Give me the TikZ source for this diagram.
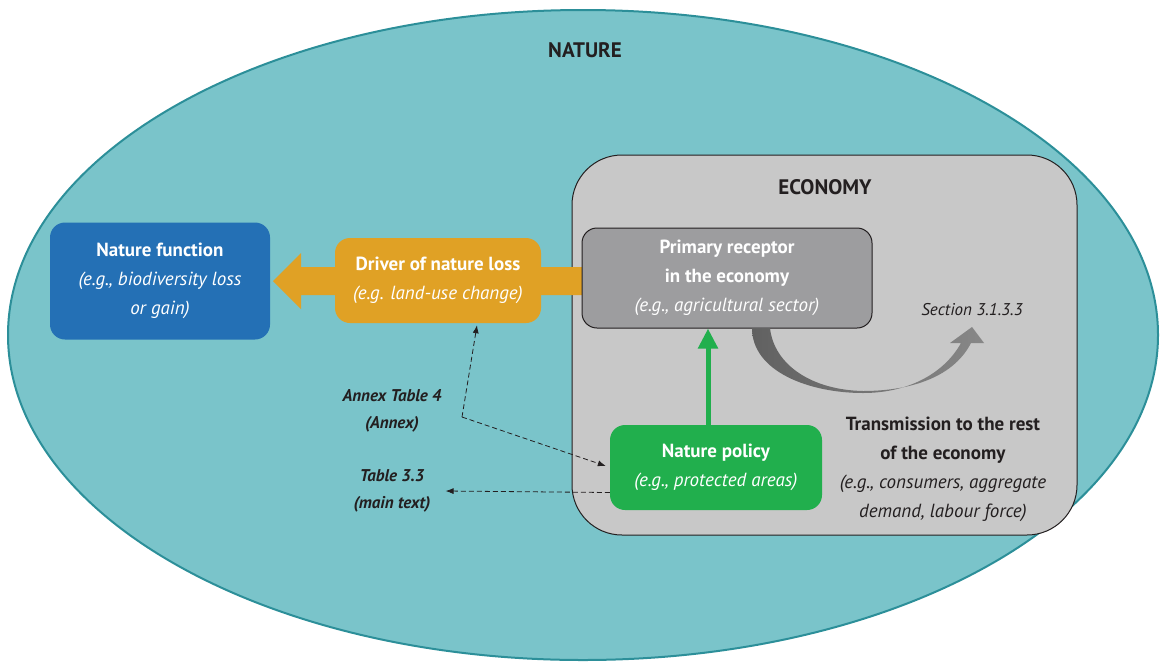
\documentclass[tikz,border=0pt]{standalone}
\usepackage{fontspec}
\setmainfont{PT Sans}
\usepackage{tikz}
\usetikzlibrary{arrows.meta}
\usetikzlibrary{calc}

\definecolor{naturefill}{HTML}{7AC4CA}
\definecolor{natureline}{HTML}{2C8F99}
\definecolor{econfill}{HTML}{C8C8C8}
\definecolor{receptorfill}{HTML}{9D9D9F}
\definecolor{functionfill}{HTML}{2470B5}
\definecolor{driverfill}{HTML}{E0A125}
\definecolor{policyfill}{HTML}{21AF4D}
\definecolor{inkdark}{HTML}{231F20}

\begin{document}
\begin{tikzpicture}[x=1pt, y=-1pt,
    box/.style={rounded corners=15pt, text=white, align=center, inner sep=0pt,
      font=\fontsize{19}{29}\selectfont},
    note/.style={text=inkdark, align=center, inner sep=0pt,
      font=\fontsize{17}{27}\selectfont\bfseries\itshape},
    refarrow/.style={dash pattern=on 5pt off 3pt, line width=0.8pt, color=inkdark,
      -{Latex[length=8pt,width=6pt]}}]
      \useasboundingbox (0,0) rectangle (1161,662);

      %% Nature and economy
      \draw[fill=naturefill, draw=natureline, line width=2pt] (583,335) ellipse (575 and 325);
      \node[font=\fontsize{21}{25}\selectfont\bfseries, text=inkdark] (naturetitle) at (585,50) {NATURE};
      \node[draw=inkdark, fill=econfill, line width=1pt, rounded corners=50pt,
        minimum width=505pt, minimum height=380pt, inner sep=0pt] (economy) at (824.5,345) {};
      \node[font=\fontsize{21}{25}\selectfont\bfseries, text=inkdark] (economytitle) at (825,187) {ECONOMY};

      %% Thick arrow from receptor to nature function
      \fill[driverfill] (582,267) -- (301,267) -- (301,253) -- (273,281)
        -- (301,309) -- (301,295) -- (582,295) -- cycle;

      %% Boxes
      \node[box, fill=functionfill, minimum width=220pt, minimum height=117pt] (function) at (160,281)
        {\textbf{Nature function}\\\textit{(e.g., biodiversity loss}\\\textit{or gain)}};
      \node[box, fill=driverfill, minimum width=206pt, minimum height=85pt] (driver) at (438,280.5)
        {\textbf{Driver of nature loss}\\\textit{(e.g. land-use change)}};
      \node[box, fill=receptorfill, draw=inkdark, line width=1pt, minimum width=290pt,
        minimum height=100pt] (receptor) at (727,278)
        {\textbf{Primary receptor}\\\textbf{in the economy}\\\textit{(e.g., agricultural sector)}};
      \node[box, fill=policyfill, minimum width=212pt, minimum height=85pt] (policy) at (716,467.5)
        {\textbf{Nature policy}\\\textit{(e.g., protected areas)}};

      %% Policy acts on receptor
      \draw[policyfill, line width=5pt, -{Triangle[length=20pt,width=19pt]}]
        (policy.north -| 708,0) -- (receptor.south -| 708,0);

      %% Transmission arrow
      \shade[left color=black!62, right color=black!47]
        (752,328) .. controls (752,372) and (810,393) .. (863,393)
        .. controls (910,393) and (945,372) .. (961,343) -- (950,343) -- (972,327)
        -- (984,343) -- (971,343) .. controls (952,380) and (905,391) .. (863,391)
        .. controls (812,390) and (774,365) .. (770,328) -- cycle;
      \node[font=\fontsize{17}{21}\selectfont\itshape, text=inkdark] (section) at (972,310) {Section 3.1.3.3};
      \node[text=inkdark, align=center, inner sep=0pt, font=\fontsize{19}{29}\selectfont] (transmission) at (943,469)
        {\textbf{Transmission to the rest}\\\textbf{of the economy}\\\textit{(e.g., consumers, aggregate}\\\textit{demand, labour force)}};

      %% References
      \node[note] (annex) at (392,411) {Annex Table 4\\(Annex)};
      \node[note] (table) at (392,491) {Table 3.3\\(main text)};
      \coordinate (annexcorner) at (462,417);
      \draw[refarrow] (annexcorner) -- ([xshift=39pt, yshift=-2pt]driver.south);
      \draw[refarrow] (annexcorner) -- ([xshift=-4pt, yshift=1.5pt]policy.west);
      \draw[refarrow] ([yshift=-25pt]policy.west) -- ($(table.east)+(15pt,0pt)$);

    \end{tikzpicture}
\end{document}
